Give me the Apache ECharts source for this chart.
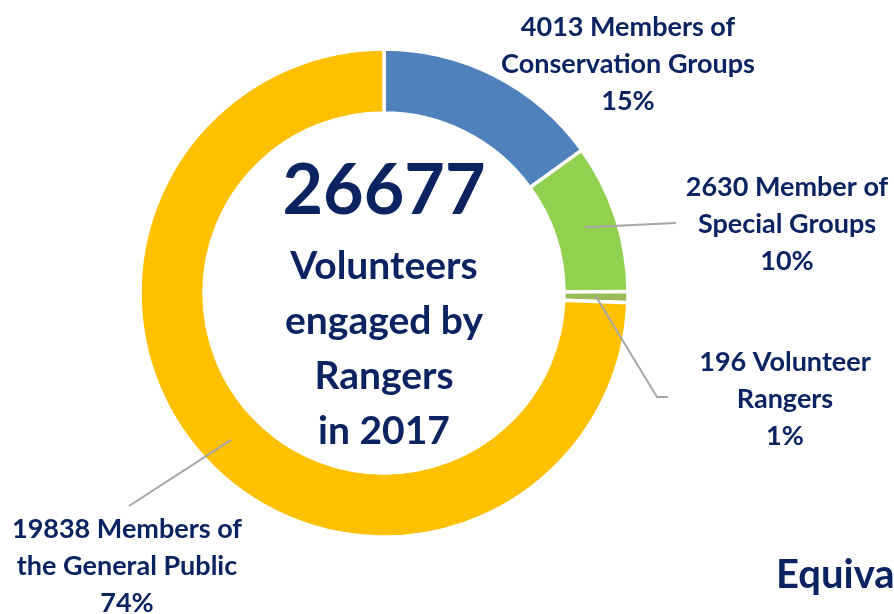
<!DOCTYPE html>
<html>
<head>
<meta charset="utf-8">
<script src="https://cdn.jsdelivr.net/npm/echarts@6/dist/echarts.min.js"></script>
<style>
  html, body { margin: 0; padding: 0; background: #ffffff; }
  #chart { width: 894px; height: 614px; }
</style>
</head>
<body>
<div id="chart"></div>
<script>
// Volunteer groups engaged by rangers in 2017
const categories = [
  'Members of\nConservation Groups',
  'Member of\nSpecial Groups',
  'Volunteer\nRangers',
  'Members of\nthe General Public'
];
const values = [4013, 2630, 196, 19838];
const sliceColors = ['#4F81BD', '#92D050', '#9BBB59', '#FFC000'];
const totalText = '26677';
const centerLines = ['Volunteers', 'engaged by', 'Rangers', 'in 2017'];
const sideNote = 'Equivalent';

const NAVY = '#0B2461';
const FONT = 'Lato, "Open Sans", sans-serif';
const CX = 384, CY = 293, R_IN = 180, R_OUT = 244;

// where each label block sits, and the elbow / end of its leader line
const labelSpots = [
  { x: 628, y: 64 },
  { x: 787, y: 224, bend: [676, 223], end: [676, 223] },
  { x: 785, y: 399, bend: [657, 397], end: [668, 397] },
  { x: 127, y: 566, bend: [129, 506], end: [129, 506] }
];

const total = values.reduce((a, b) => a + b, 0);
const midAngles = [];
let acc = 0;
values.forEach(v => { midAngles.push((acc + v / 2) / total * Math.PI * 2); acc += v; });

const pieBase = {
  type: 'pie',
  center: [CX, CY],
  radius: [R_IN, R_OUT],
  startAngle: 90,
  clockwise: true,
  avoidLabelOverlap: false,
  percentPrecision: 0,
  silent: true,
  emphasis: { disabled: true }
};

const chart = echarts.init(document.getElementById('chart'));

chart.setOption({
  backgroundColor: '#ffffff',
  animation: false,
  series: [
    // the ring itself
    Object.assign({}, pieBase, {
      z: 2,
      itemStyle: { borderColor: '#ffffff', borderWidth: 3.5 },
      label: { show: false },
      labelLine: { show: false },
      data: categories.map((name, i) => ({
        name: name,
        value: values[i],
        itemStyle: { color: sliceColors[i] }
      }))
    }),
    // labels and leader lines, drawn above the ring
    Object.assign({}, pieBase, {
      z: 3,
      itemStyle: { color: 'rgba(0,0,0,0)', borderWidth: 0 },
      label: {
        show: true,
        position: 'outside',
        formatter: p => p.value + ' ' + p.name + '\n' + p.percent + '%',
        color: NAVY,
        fontFamily: FONT,
        fontWeight: 'bold',
        fontSize: 27,
        lineHeight: 37,
        align: 'center'
      },
      labelLine: {
        show: true,
        lineStyle: { color: '#A6A6A6', width: 2 }
      },
      labelLayout: function (p) {
        const i = p.dataIndex;
        const s = labelSpots[i];
        const a = midAngles[i];
        const r = (R_IN + R_OUT) / 2;
        const sx = CX + r * Math.sin(a);
        const sy = CY - r * Math.cos(a);
        const out = { x: s.x, y: s.y, align: 'center', verticalAlign: 'middle' };
        if (s.end) out.labelLinePoints = [[sx, sy], s.bend, s.end];
        return out;
      },
      data: categories.map((name, i) => ({
        name: name,
        value: values[i],
        labelLine: { show: !!labelSpots[i].end }
      }))
    })
  ],
  graphic: [
    {
      type: 'text',
      x: CX, y: 191,
      style: {
        text: totalText,
        fill: NAVY,
        font: 'bold 70px ' + FONT,
        align: 'center',
        verticalAlign: 'middle'
      }
    },
    {
      type: 'text',
      x: CX, y: 349,
      style: {
        text: centerLines.join('\n'),
        fill: NAVY,
        font: 'bold 39px ' + FONT,
        lineHeight: 55,
        align: 'center',
        verticalAlign: 'middle'
      }
    },
    {
      type: 'text',
      x: 776, y: 575,
      style: {
        text: sideNote,
        fill: NAVY,
        font: 'bold 40px ' + FONT,
        align: 'left',
        verticalAlign: 'middle'
      }
    }
  ]
});
</script>
</body>
</html>
